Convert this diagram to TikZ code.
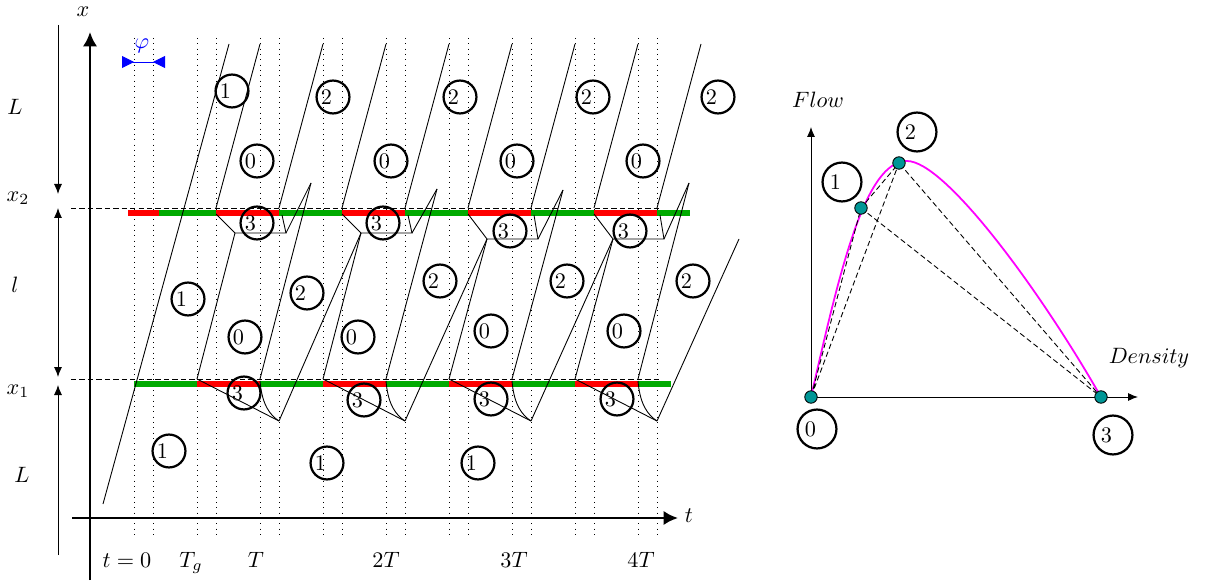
\documentclass[tikz,border=0pt]{standalone}
\usetikzlibrary{arrows.meta}
\definecolor{sigred}{RGB}{255,0,0}
\definecolor{siggreen}{RGB}{0,170,0}
\definecolor{stateteal}{RGB}{0,150,150}
\definecolor{curvemag}{RGB}{255,0,255}
\begin{document}
\begin{tikzpicture}[x=0.45pt, y=-0.45pt, >={Latex[length=4.5pt,width=3.6pt]},
  zone/.style={draw, circle, line width=1pt, minimum size=14.8pt, inner sep=0pt,
    execute at end node={\kern 6pt}},
  bigzone/.style={zone, minimum size=17.5pt},
  state/.style={circle, draw, fill=stateteal, minimum size=5.6pt, inner sep=0pt},
  bar/.style={line width=2.7pt},
  dashline/.style={dash pattern=on 2.4pt off 1.4pt}]
  \useasboundingbox (0,0) rectangle (1207,581);

  % time grid: cycle starts and offset phi
  \foreach \t in {134,197,...,638}
    \draw[dotted] (\t,38) -- (\t,538) (\t+19,38) -- (\t+19,538);

  \draw[dashline] (71,208) -- (662,208);
  \draw[dashline] (71,379) -- (662,379);

  % signal at x2
  \draw[bar, sigred] (128,213) -- (159,213);
  \draw[bar, siggreen] (159,213) -- (216,213);
  \foreach \a in {0,126,252,378} {
    \draw[bar, sigred] (216+\a,213) -- (279+\a,213);
    \draw[bar, siggreen] (279+\a,213) -- ({min(342+\a,690)},213);
  }
  % signal at x1
  \foreach \a in {0,126,252,378} {
    \draw[bar, siggreen] (134+\a,384) -- (197+\a,384);
    \draw[bar, sigred] (197+\a,384) -- (260+\a,384);
  }
  \draw[bar, siggreen] (638,384) -- (671,384);

  % axes
  \draw[very thick, -{Latex[length=6.5pt,width=6.5pt]}] (90,580) -- (90,32);
  \draw[very thick, -{Latex[length=6.5pt,width=6.5pt]}] (72,518) -- (678,518);
  \node (xlab) at (83,12) {$x$};
  \node (tlab) at (689,516) {$t$};

  % characteristics
  \draw (103,504) -- (229,44);
  \foreach \a in {0,126,252,378} {
    \draw (216+\a,208) -- (260+\a,44);
    \draw (279+\a,208) -- (323+\a,44);
  }

  % shocks behind both signals
  \foreach \a/\yb/\ys/\yn in {0/233/183/233, 126/233/189/239, 252/239/190/239, 378/239/183/239} {
    \draw (216+\a,214) -- (235+\a,\yb) -- (286+\a,\yb) -- (282+\a,215);
    \draw (286+\a,\yb) -- (311+\a,\ys);
    \draw (260+\a,379) -- (311+\a,\ys);
    \draw (197+\a,379) -- (235+\a,\yb);
    \draw (197+\a,379) -- (279+\a,421);
    \draw (260+\a,381) .. controls (262+\a,405) and (270+\a,415) .. (279+\a,421);
    \draw (279+\a,421) -- (361+\a,\yn);
  }

  % traffic states
  \foreach \cx/\cy/\d [count=\i] in {232/91/1, 257/161/0, 333/97/2, 391/161/0,
      460/97/2, 517/161/0, 593/97/2, 643/161/0, 718/97/2,
      188/299/1, 245/337/0, 307/293/2, 358/337/0, 440/281/2, 491/331/0,
      567/281/2, 624/331/0, 693/281/2,
      257/223/3, 383/223/3, 510/231/3, 630/231/3,
      244/393/3, 364/400/3, 491/399/3, 617/399/3,
      169/451/1, 327/463/1, 478/463/1}
    \node[zone] (z\i) at (\cx,\cy) {\d};

  % lengths
  \draw[->] (58,25) -- (58,194);
  \draw[<->] (58,208) -- (58,377);
  \draw[->] (58,555) -- (58,385);
  \node (Ltop) at (15,107) {$L$};
  \node (xtwo) at (18,198) {$x_2$};
  \node (lmid) at (15,285) {$l$};
  \node (xone) at (18,391) {$x_1$};
  \node (Lbot) at (22,475) {$L$};

  % offset
  \draw[blue, {Triangle[reversed,length=5.4pt,width=5.4pt]}-{Triangle[reversed,length=5.4pt,width=5.4pt]}] (122,62) -- (165,62);
  \node[blue] (phi) at (142,46) {$\varphi$};

  % time labels
  \foreach \tx/\tl in {127/{t=0}, 191/{T_g}, 256/T, 386/2T, 514/3T, 641/4T}
    \node[anchor=base] at (\tx,567) {$\tl$};

  % fundamental diagram
  \coordinate (c0) at (811,397);
  \coordinate (c1) at (861,208);
  \coordinate (c2) at (899,163);
  \coordinate (c3) at (1101,397);
  \coordinate (top) at (907,161);
  \draw[->] (c0) -- (811,127);
  \draw[->] (c0) -- (1138,397);
  \node (flow) at (818,100) {$Flow$};
  \node (dens) at (1149,358) {$Density$};
  \draw[curvemag, thick] (c0) .. controls (840,270) and (865,161) .. (top)
    .. controls (945,161) and (1040,290) .. (c3);
  \draw[dashline] (c0) -- (c1) -- (c2) -- (c0);
  \draw[dashline] (c1) -- (c3) -- (c2);
  \foreach \i in {0,...,3}
    \node[state] (s\i) at (c\i) {};
  \node[bigzone] (b2) at (917,132) {2};
  \node[bigzone] (b1) at (842,182) {1};
  \node[bigzone] (b0) at (817,429) {0};
  \node[bigzone] (b3) at (1113,435) {3};
\end{tikzpicture}
\end{document}
